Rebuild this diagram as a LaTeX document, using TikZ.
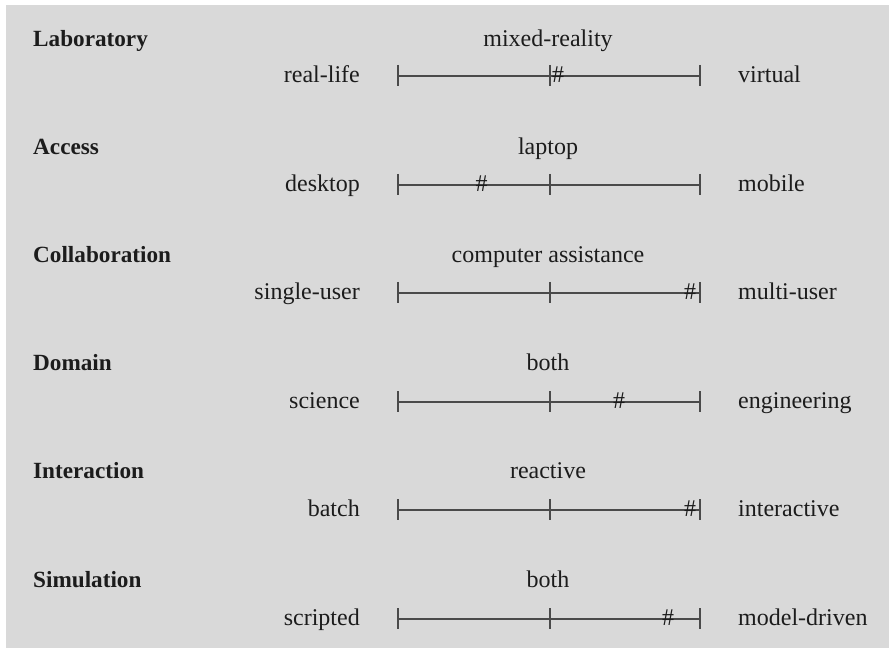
\documentclass[tikz,border=0pt]{standalone}
\usepackage{fontspec}
\setmainfont{Liberation Serif}
\definecolor{panelgray}{HTML}{D9D9D9}
\definecolor{inkgray}{HTML}{4A4A4A}
\definecolor{textdark}{HTML}{1C1C1C}
\tikzset{
  every node/.style={inner sep=0pt, text=textdark, font=\fontsize{24}{28}\selectfont},
  title/.style={anchor=base west, font=\fontsize{23.2}{28}\selectfont\bfseries},
  midlab/.style={anchor=base},
  leftlab/.style={anchor=base east},
  rightlab/.style={anchor=base west},
  hashmark/.style={anchor=base},
  scaleline/.style={draw=inkgray, line width=2pt},
  tickmark/.style={draw=inkgray, line width=2pt}
}
\begin{document}
\begin{tikzpicture}[x=1pt, y=-1pt]
        \useasboundingbox (0,0) rectangle (889,652);
        \fill[white] (0,0) rectangle (889,652);
        \fill[panelgray] (6,5) rectangle (889,648);
        % Laboratory
        \node[title] (lab) at (33,46.5) {Laboratory};
        \node[midlab] (labmid) at (548,46.5) {mixed-reality};
        \coordinate (labL) at (398,76);
        \coordinate (labM) at (550,76);
        \coordinate (labR) at (700,76);
        \node[leftlab] (lableft) at (360,82.5) {real-life};
        \node[rightlab] (labright) at (738,82.5) {virtual};
        \draw[scaleline] (labL) -- (labR);
        \draw[tickmark] ([yshift=11pt]labL) -- ([yshift=-10pt]labL) ([yshift=11pt]labM) -- ([yshift=-10pt]labM) ([yshift=11pt]labR) -- ([yshift=-10pt]labR);
        \node[hashmark] (labhash) at (558,82.5) {\#};
        % Access
        \node[title] (acc) at (33,154.6) {Access};
        \node[midlab] (accmid) at (548,154.6) {laptop};
        \coordinate (accL) at (398,185);
        \coordinate (accM) at (550,185);
        \coordinate (accR) at (700,185);
        \node[leftlab] (accleft) at (360,191.1) {desktop};
        \node[rightlab] (accright) at (738,191.1) {mobile};
        \draw[scaleline] (accL) -- (accR);
        \draw[tickmark] ([yshift=11pt]accL) -- ([yshift=-10pt]accL) ([yshift=11pt]accM) -- ([yshift=-10pt]accM) ([yshift=11pt]accR) -- ([yshift=-10pt]accR);
        \node[hashmark] (acchash) at (481.5,191.1) {\#};
        % Collaboration
        \node[title] (col) at (33,262.7) {Collaboration};
        \node[midlab] (colmid) at (548,262.7) {computer assistance};
        \coordinate (colL) at (398,293);
        \coordinate (colM) at (550,293);
        \coordinate (colR) at (700,293);
        \node[leftlab] (colleft) at (360,299.7) {single-user};
        \node[rightlab] (colright) at (738,299.7) {multi-user};
        \draw[scaleline] (colL) -- (colR);
        \draw[tickmark] ([yshift=11pt]colL) -- ([yshift=-10pt]colL) ([yshift=11pt]colM) -- ([yshift=-10pt]colM) ([yshift=11pt]colR) -- ([yshift=-10pt]colR);
        \node[hashmark] (colhash) at (690,299.7) {\#};
        % Domain
        \node[title] (dom) at (33,370.8) {Domain};
        \node[midlab] (dommid) at (548,370.8) {both};
        \coordinate (domL) at (398,402);
        \coordinate (domM) at (550,402);
        \coordinate (domR) at (700,402);
        \node[leftlab] (domleft) at (360,408.3) {science};
        \node[rightlab] (domright) at (738,408.3) {engineering};
        \draw[scaleline] (domL) -- (domR);
        \draw[tickmark] ([yshift=11pt]domL) -- ([yshift=-10pt]domL) ([yshift=11pt]domM) -- ([yshift=-10pt]domM) ([yshift=11pt]domR) -- ([yshift=-10pt]domR);
        \node[hashmark] (domhash) at (619,408.3) {\#};
        % Interaction
        \node[title] (int) at (33,478.9) {Interaction};
        \node[midlab] (intmid) at (548,478.9) {reactive};
        \coordinate (intL) at (398,510);
        \coordinate (intM) at (550,510);
        \coordinate (intR) at (700,510);
        \node[leftlab] (intleft) at (360,516.9) {batch};
        \node[rightlab] (intright) at (738,516.9) {interactive};
        \draw[scaleline] (intL) -- (intR);
        \draw[tickmark] ([yshift=11pt]intL) -- ([yshift=-10pt]intL) ([yshift=11pt]intM) -- ([yshift=-10pt]intM) ([yshift=11pt]intR) -- ([yshift=-10pt]intR);
        \node[hashmark] (inthash) at (690,516.9) {\#};
        % Simulation
        \node[title] (sim) at (33,587) {Simulation};
        \node[midlab] (simmid) at (548,587) {both};
        \coordinate (simL) at (398,619);
        \coordinate (simM) at (550,619);
        \coordinate (simR) at (700,619);
        \node[leftlab] (simleft) at (360,625.5) {scripted};
        \node[rightlab] (simright) at (738,625.5) {model-driven};
        \draw[scaleline] (simL) -- (simR);
        \draw[tickmark] ([yshift=11pt]simL) -- ([yshift=-10pt]simL) ([yshift=11pt]simM) -- ([yshift=-10pt]simM) ([yshift=11pt]simR) -- ([yshift=-10pt]simR);
        \node[hashmark] (simhash) at (668,625.5) {\#};
    \end{tikzpicture}
\end{document}
